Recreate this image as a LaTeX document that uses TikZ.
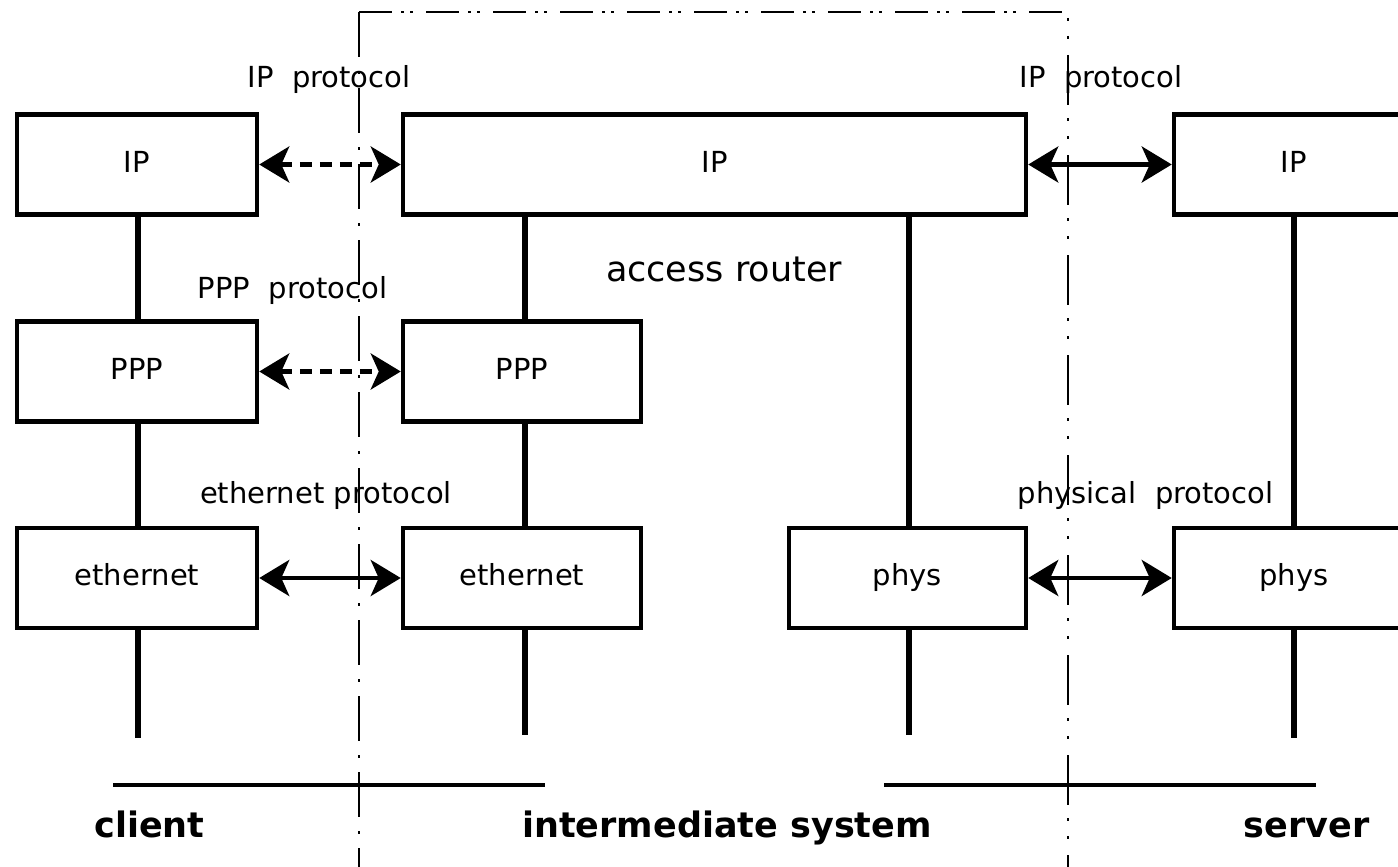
\documentclass[tikz,border=0pt]{standalone}
\usepackage{fontspec}
\setmainfont{DejaVu Sans}
\usetikzlibrary{arrows.meta}
\begin{document}
\begin{tikzpicture}[x=1pt,y=-1pt,
  box/.style={draw, line width=4.5pt, minimum height=100pt, inner sep=0pt,
    font=\fontsize{29}{32}\selectfont, text height=21pt, text depth=6pt},
  stem/.style={line width=5.5pt},
  tip/.tip={Stealth[length=30pt,width=36pt,inset=8pt]},
  link/.style={line width=4.5pt, tip-tip},
  dlink/.style={link, dash pattern=on 12pt off 8pt},
  lab/.style={anchor=base, inner sep=0pt, font=\fontsize{29}{32}\selectfont},
  big/.style={anchor=base, inner sep=0pt, font=\fontsize{35}{40}\selectfont},
  bold/.style={anchor=base, inner sep=0pt, font=\fontsize{35}{40}\selectfont\bfseries},
  frame/.style={line width=1.8pt},
  base/.style={line width=4.5pt}]
\useasboundingbox (0,0) rectangle (1398,867);
\clip (0,0) rectangle (1398,867);
% client
\node[box, minimum width=240pt] (cip) at (137,164.5) {IP};
\node[box, minimum width=240pt] (cppp) at (137,371.5) {PPP};
\node[box, minimum width=240pt] (ceth) at (137,578) {ethernet};
% intermediate
\node[box, minimum width=623pt] (rip) at (714.5,164.5) {IP};
\node[box, minimum width=238pt] (rppp) at (522,371.5) {PPP};
\node[box, minimum width=238pt] (reth) at (522,578) {ethernet};
\node[box, minimum width=237pt] (rphys) at (907.5,578) {phys};
% server
\node[box, minimum width=240pt] (sip) at (1294,164.5) {IP};
\node[box, minimum width=240pt] (sphys) at (1294,578) {phys};
% stem ends
\coordinate (cend) at (138,738);
\coordinate (rend) at (525,735);
\coordinate (pend) at (909,735);
\coordinate (send) at (1294,738);
% stems
\draw[stem] (cip.south -| cend) -- (cppp.north -| cend);
\draw[stem] (cppp.south -| cend) -- (ceth.north -| cend);
\draw[stem] (ceth.south -| cend) -- (cend);
\draw[stem] (rip.south -| rend) -- (rppp.north -| rend);
\draw[stem] (rppp.south -| rend) -- (reth.north -| rend);
\draw[stem] (reth.south -| rend) -- (rend);
\draw[stem] (rip.south -| pend) -- (rphys.north -| pend);
\draw[stem] (rphys.south -| pend) -- (pend);
\draw[stem] (sip.south -| send) -- (sphys.north -| send);
\draw[stem] (sphys.south -| send) -- (send);
% links
\draw[dlink] (cip.east) -- (rip.west);
\draw[dlink] (cppp.east) -- (rppp.west);
\draw[link] (ceth.east) -- (reth.west);
\draw[link] (rip.east) -- (sip.west);
\draw[link] (rphys.east) -- (sphys.west);
% labels
\node[lab] (l1) at (329,88) {IP~~protocol};
\node[lab] (l2) at (292.5,298) {PPP~~protocol};
\node[lab] (l3) at (326,503) {ethernet protocol};
\node[lab] (l4) at (1101,88) {IP~~protocol};
\node[lab] (l5) at (1145.5,503) {physical~~protocol};
\node[big] (ar) at (724,281) {access router};
% base lines and titles
\coordinate (b1) at (113,785); \coordinate (b2) at (545,785);
\coordinate (b3) at (884,785); \coordinate (b4) at (1316,785);
\draw[base] (b1) -- (b2);
\draw[base] (b3) -- (b4);
\node[bold] (client) at (149.5,837) {client};
\node[bold] (inter) at (727,837) {intermediate system};
\node[bold] (server) at (1306.5,837) {server};
% frame
\coordinate (f1) at (359,880);
\coordinate (f2) at (359,12);
\coordinate (f3) at (1068,12);
\coordinate (f4) at (1068,880);
\draw[frame, dash pattern=on 45pt off 14pt on 3pt off 14pt] (f2) -- (f1);
\draw[frame, dash pattern=on 33pt off 9pt on 3pt off 6pt on 3pt off 13pt] (f2) -- (f3);
\draw[frame, dash pattern=on 50pt off 13pt on 3pt off 15pt on 3pt off 16pt, dash phase=57pt] (f3) -- (f4);
\end{tikzpicture}
\end{document}
